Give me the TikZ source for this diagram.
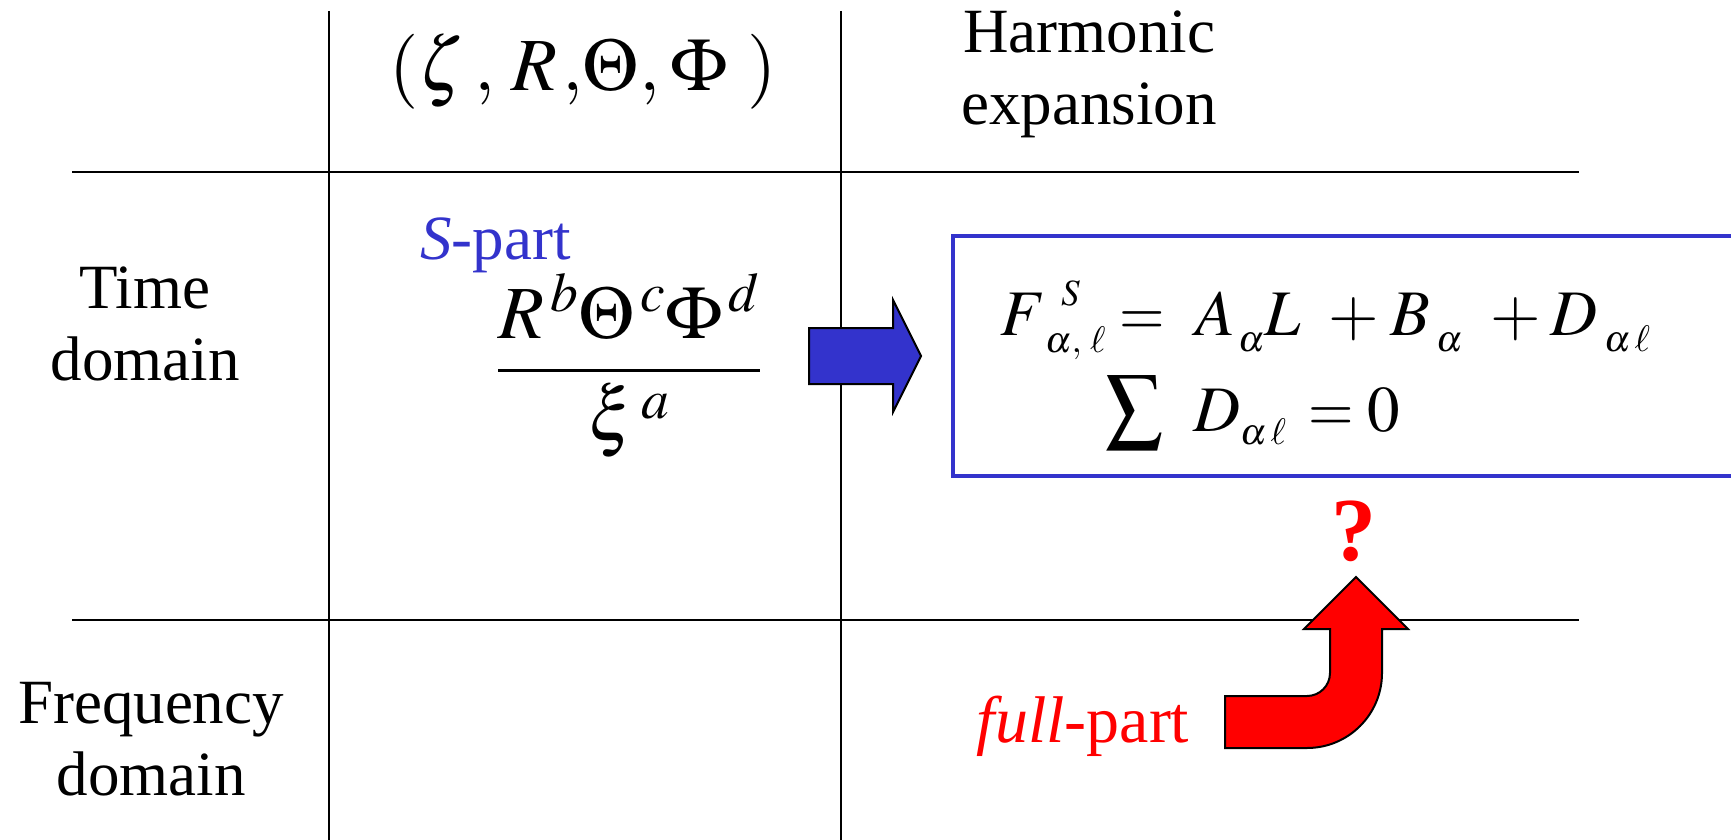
\documentclass[tikz,border=0pt]{standalone}
\usepackage{amsmath}
\usepackage{graphicx}
\usepackage{mathptmx}
\usepackage[no-math]{fontspec}
\setmainfont{Liberation Serif}
\definecolor{sblue}{RGB}{51,51,204}
\definecolor{fred}{RGB}{255,0,0}
% place #3 at horizontal offset #1, raised by #2, without taking width
\newcommand{\putat}[3]{\makebox[0pt][l]{\hspace*{#1}\raisebox{#2}{#3}}}
\newcommand{\scr}{\fontsize{37}{37}\selectfont}
\newcommand{\eqsign}{\scalebox{0.9}[1]{$=$}}
\tikzset{
  gridline/.style={line width=2pt, draw=black},
  lbl/.style={inner sep=0pt, font=\fontsize{63}{72}\selectfont, align=center},
  eqn/.style={inner sep=0pt, font=\fontsize{65}{72}\selectfont, anchor=base west},
  mathbig/.style={inner sep=0pt, font=\fontsize{75}{80}\selectfont},
  sbox/.style={line width=4pt, draw=sblue},
  shapearrow/.style={line width=2pt, draw=black, line join=miter},
}
\begin{document}
\begin{tikzpicture}[x=1pt,y=-1pt]
\useasboundingbox (0,0) rectangle (1731,840);
\fill[white] (0,0) rectangle (1731,840);
% table grid
\draw[gridline] (72,172) -- (1579,172);
\draw[gridline] (72,620) -- (1579,620);
\draw[gridline] (329,11) -- (329,840);
\draw[gridline] (841,11) -- (841,840);
% headers
\node[mathbig, anchor=base west] (coords) at (389,91) {%
  \putat{0pt}{0pt}{$($}%
  \putat{29pt}{0pt}{$\zeta$}%
  \putat{85pt}{0pt}{$,$}%
  \putat{122pt}{0pt}{$R$}%
  \putat{173pt}{0pt}{$,$}%
  \putat{193pt}{0pt}{$\Theta$}%
  \putat{250pt}{0pt}{$,$}%
  \putat{281pt}{0pt}{$\Phi$}%
  \putat{358pt}{0pt}{$)$}%
  \hspace*{382pt}};
\node[lbl] (harm) at (1089,74) {Harmonic\\expansion};
\node[lbl] (time) at (145,324) {Time\\domain};
\node[lbl] (freq) at (151,739) {Frequency\\domain};
% S-part cell
\node[lbl, anchor=base west, text=sblue] (spart) at (420,259) {\textit{S}-part};
\node[mathbig, anchor=base] (frac) at (629,389) {$\dfrac{R^{\,b}\Theta^{\,c}\Phi^{\,d}}{\xi^{\,a}}$};
% blue arrow
\draw[shapearrow, fill=sblue] (809,328) -- (893,328) -- (893,300) -- (921,356) -- (893,412) -- (893,384) -- (809,384) -- cycle;
% formula box
\draw[sbox] (953,236) rectangle (1760,476);
\node[eqn] (eq1) at (1000,335) {%
  \putat{0pt}{0pt}{$F$}%
  \putat{61pt}{30pt}{\scr$S$}%
  \putat{45pt}{-17pt}{\scr$\alpha{,}\;\ell$}%
  \putat{119pt}{0pt}{\eqsign}%
  \putat{195pt}{0pt}{$A$}%
  \putat{238pt}{-16pt}{\scr$\alpha$}%
  \putat{264pt}{0pt}{$L$}%
  \putat{328pt}{0pt}{$+$}%
  \putat{390pt}{0pt}{$B$}%
  \putat{436pt}{-16pt}{\scr$\alpha$}%
  \putat{490pt}{0pt}{$+$}%
  \putat{550pt}{0pt}{$D$}%
  \putat{604pt}{-16pt}{\scr$\alpha\,\ell$}%
  \hspace*{645pt}};
\node[eqn] (eq2) at (1104,431) {%
  \putat{1pt}{-19pt}{\raisebox{\depth}{\resizebox*{58pt}{74pt}{$\sum$}}}%
  \putat{89pt}{0pt}{$D$}%
  \putat{136pt}{-13pt}{\scr$\alpha\,\ell$}%
  \putat{204pt}{0pt}{\eqsign}%
  \putat{263pt}{0pt}{$0$}%
  \hspace*{295pt}};
% question mark
\node[inner sep=0pt, font=\fontsize{90}{90}\selectfont\bfseries, text=fred] (q) at (1354,531) {?};
% full-part
\node[lbl, anchor=base, text=fred, font=\fontsize{66}{72}\selectfont] (full) at (1083,742) {\textit{full}-part};
% red bent arrow
\draw[shapearrow, fill=fred] (1225,696) -- (1307,696) arc[start angle=90, end angle=0, radius=23] -- (1330,629) -- (1304,629) -- (1356,577) -- (1408,629) -- (1382,629) -- (1382,673) arc[start angle=0, end angle=90, radius=75] -- (1225,748) -- cycle;
\end{tikzpicture}
\end{document}
